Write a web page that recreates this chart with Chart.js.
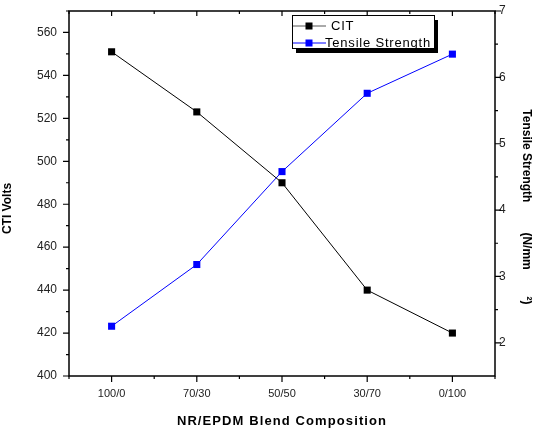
<!DOCTYPE html>
<html>
<head>
<meta charset="utf-8">
<script src="https://cdn.jsdelivr.net/npm/chart.js@4/dist/chart.umd.min.js"></script>
<style>
html,body{margin:0;padding:0;background:#fff;}
#wrap{position:relative;width:534px;height:429px;}
</style>
</head>
<body>
<div id="wrap"><canvas id="c" width="534" height="429"></canvas></div>
<script>
const categories = ['100/0', '70/30', '50/50', '30/70', '0/100'];
const ctiValues = [551, 523, 490, 440, 420];
const tensileValues = [2.25, 3.18, 4.58, 5.76, 6.35];
const ctiTicks = [400, 420, 440, 460, 480, 500, 520, 540, 560];
const tensileTicks = [2, 3, 4, 5, 6, 7];
const ctiMinorTicks = [410, 430, 450, 470, 490, 510, 530, 550, 570];
const tensileMinorTicks = [2.5, 3.5, 4.5, 5.5, 6.5];
const seriesNames = ['CIT', 'Tensile Strength'];

const FONT = "Arial, 'Liberation Sans', sans-serif";

const frame = {
  id: 'frame',
  afterDatasetsDraw(chart) {
    const {ctx, chartArea: a, scales} = chart;
    ctx.save();
    ctx.strokeStyle = '#000';
    ctx.lineWidth = 1.5;
    ctx.strokeRect(a.left, a.top, a.right - a.left, a.bottom - a.top);
    ctx.lineWidth = 1.2;
    ctx.beginPath();
    const xs = scales.x;
    const n = categories.length;
    for (let i = 0; i < n; i++) {
      const px = xs.getPixelForValue(i);
      ctx.moveTo(px, a.bottom); ctx.lineTo(px, a.bottom + 6);
      ctx.moveTo(px, a.top); ctx.lineTo(px, a.top + 5);
    }
    for (let i = -1; i < n; i++) {
      const px = (xs.getPixelForValue(i) + xs.getPixelForValue(i + 1)) / 2;
      ctx.moveTo(px, a.bottom); ctx.lineTo(px, a.bottom + 3);
      ctx.moveTo(px, a.top); ctx.lineTo(px, a.top + 3);
    }
    const yl = scales.y;
    ctiTicks.forEach(v => { const py = yl.getPixelForValue(v); ctx.moveTo(a.left, py); ctx.lineTo(a.left - 6, py); });
    ctiMinorTicks.forEach(v => { const py = yl.getPixelForValue(v); ctx.moveTo(a.left, py); ctx.lineTo(a.left - 3, py); });
    const yr = scales.y1;
    tensileTicks.forEach(v => { const py = yr.getPixelForValue(v); ctx.moveTo(a.right, py); ctx.lineTo(a.right + 6, py); });
    tensileMinorTicks.forEach(v => { const py = yr.getPixelForValue(v); ctx.moveTo(a.right, py); ctx.lineTo(a.right + 3, py); });
    ctx.stroke();

    // legend box
    const bx = 292, by = 15, bw = 142, bh = 33;
    ctx.fillStyle = '#000';
    ctx.fillRect(bx + 4, by + 5, bw, bh);
    ctx.fillStyle = '#fff';
    ctx.fillRect(bx, by, bw, bh);
    ctx.lineWidth = 1;
    ctx.strokeStyle = '#000';
    ctx.strokeRect(bx + 0.5, by + 0.5, bw, bh);
    const items = [
      {name: seriesNames[0], color: '#000', line: '#555', y: 26, tx: 331},
      {name: seriesNames[1], color: '#0000ff', line: '#0000ff', y: 43, tx: 325}
    ];
    items.forEach(it => {
      ctx.strokeStyle = it.line;
      ctx.lineWidth = 1;
      ctx.beginPath();
      ctx.moveTo(bx + 1, it.y); ctx.lineTo(bx + 34, it.y);
      ctx.stroke();
      ctx.fillStyle = it.color;
      ctx.fillRect(309 - 3.5, it.y - 3.5, 7, 7);
      ctx.fillStyle = '#000';
      ctx.font = '13px ' + FONT;
      ctx.letterSpacing = '0.8px';
      ctx.textBaseline = 'middle';
      ctx.textAlign = 'left';
      ctx.fillText(it.name, it.tx, it.y + 0.5);
      ctx.letterSpacing = '0px';
    });
    ctx.restore();
  }
};

function noPad(s) { s.paddingTop = 0; s.paddingBottom = 0; }

new Chart(document.getElementById('c'), {
  type: 'line',
  data: {
    labels: categories,
    datasets: [
      {
        label: seriesNames[0], data: ctiValues, yAxisID: 'y',
        borderColor: '#000', backgroundColor: '#000', borderWidth: 1,
        pointStyle: 'rect', pointRadius: 5, pointBorderWidth: 0,
        pointBackgroundColor: '#000', tension: 0
      },
      {
        label: seriesNames[1], data: tensileValues, yAxisID: 'y1',
        borderColor: '#0000ff', backgroundColor: '#0000ff', borderWidth: 1,
        pointStyle: 'rect', pointRadius: 5, pointBorderWidth: 0,
        pointBackgroundColor: '#0000ff', tension: 0
      }
    ]
  },
  options: {
    responsive: false,
    animation: false,
    events: [],
    layout: {padding: {top: 11, left: 0, right: 0, bottom: 0}},
    plugins: {legend: {display: false}, tooltip: {enabled: false}},
    scales: {
      x: {
        type: 'category', offset: true,
        grid: {display: false, drawTicks: false},
        border: {display: false},
        ticks: {color: '#222', font: {family: FONT, size: 11}, padding: 11, maxRotation: 0},
        title: {display: true, text: 'NR/EPDM Blend Composition', color: '#000',
                font: {family: FONT, size: 13, weight: 'bold'}, padding: {top: 7, bottom: 0}},
        afterFit(s) { s.height = 53; s.paddingLeft = 0; s.paddingRight = 0; },
        afterUpdate(s) {
          if (!s._wrapped) {
            const orig = s.drawTitle;
            s.drawTitle = function () {
              const c = this.ctx;
              c.letterSpacing = '1.1px';
              orig.apply(this, arguments);
              c.letterSpacing = '0px';
            };
            s._wrapped = true;
          }
        }
      },
      y: {
        type: 'linear', position: 'left', min: 400, max: 570,
        grid: {display: false, drawTicks: false},
        border: {display: false},
        ticks: {stepSize: 20, color: '#222', font: {family: FONT, size: 12}, padding: 12},
        afterBuildTicks(s) { s.ticks = ctiTicks.map(v => ({value: v})); },
        title: {display: true, text: 'CTI Volts         ', color: '#000',
                font: {family: FONT, size: 12, weight: 'bold'}, padding: {top: 0, bottom: 0}},
        afterFit(s) { s.width = 69; noPad(s); }
      },
      y1: {
        type: 'linear', position: 'right', min: 1.5, max: 7,
        grid: {display: false, drawTicks: false},
        border: {display: false},
        ticks: {stepSize: 1, color: '#222', font: {family: FONT, size: 12}, padding: 4},
        afterBuildTicks(s) { s.ticks = tensileTicks.map(v => ({value: v})); },
        title: {display: true, text: '        Tensile Strength         (N/mm        ²)', color: '#000',
                font: {family: FONT, size: 12, weight: 'bold'}, padding: {top: 0, bottom: 0}},
        afterFit(s) { s.width = 39; noPad(s); }
      }
    }
  },
  plugins: [frame]
});
</script>
</body>
</html>
